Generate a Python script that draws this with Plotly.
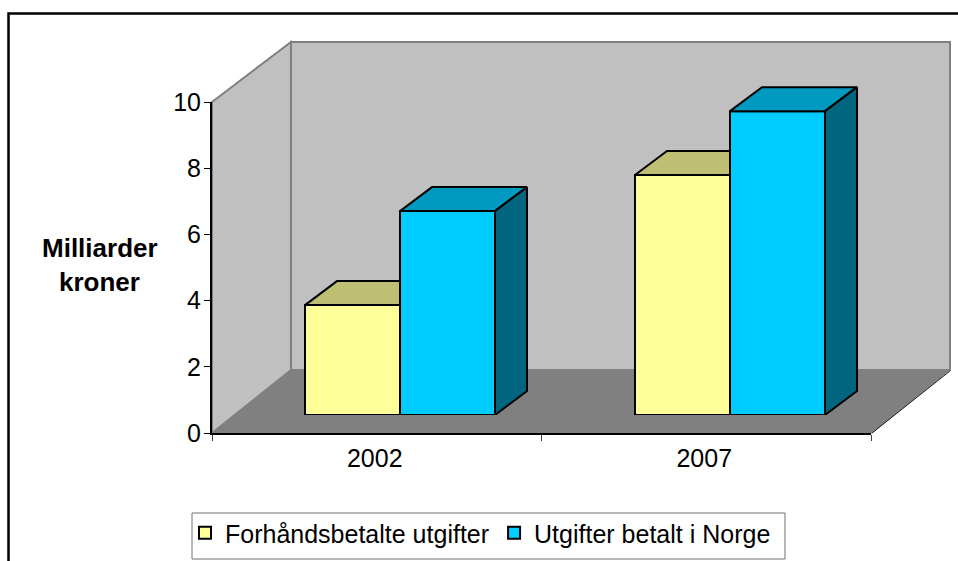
import plotly.graph_objects as go

# Data
CATEGORIES = ["2002", "2007"]
PREPAID = [3.32, 7.25]
PAID_NORWAY = [6.16, 9.18]
SERIES_NAMES = ["Forhåndsbetalte utgifter", "Utgifter betalt i Norge"]
Y_TICKS = [0, 2, 4, 6, 8, 10]

W, H = 958, 561
FX = lambda x: x / W
FY = lambda y: 1 - y / H

# Axis geometry (pixels)
X0, X1 = 212, 871
Y0, Y10 = 433, 102
BAR_X0, BAR_X1, BAR_BASE = 235, 895, 415
CAT_PX = (BAR_X1 - BAR_X0) / 2
VAL_PX = (Y0 - Y10) / 10
BAR_W = 95 / CAT_PX
DX, DY = 32 / CAT_PX, 24 / VAL_PX

YELLOW, YELLOW_TOP = "#FFFF99", "#BFBF73"
BLUE, BLUE_TOP, BLUE_SIDE = "#00CCFF", "#0099BF", "#006680"
FONT = "Liberation Sans, Arial, sans-serif"
TICK_SIZE = 25

fig = go.Figure()
# Category axis carrier
fig.add_trace(go.Scatter(x=CATEGORIES, y=[0, 0], mode="markers", marker=dict(opacity=0),
                         hoverinfo="skip", showlegend=False, xaxis="x", yaxis="y"))
# Front faces
fig.add_trace(go.Bar(x=[0, 1], y=PREPAID, name=SERIES_NAMES[0], width=BAR_W, offset=-BAR_W,
                     marker=dict(color=YELLOW, line=dict(color="black", width=2)),
                     xaxis="x2", yaxis="y2"))
fig.add_trace(go.Bar(x=[0, 1], y=PAID_NORWAY, name=SERIES_NAMES[1], width=BAR_W, offset=0,
                     marker=dict(color=BLUE, line=dict(color="black", width=2)),
                     xaxis="x2", yaxis="y2"))


def face(xs, ys, color):
    fig.add_trace(go.Scatter(x=xs, y=ys, mode="lines", fill="toself", fillcolor=color,
                             line=dict(color="black", width=2), hoverinfo="skip",
                             showlegend=False, xaxis="x2", yaxis="y2"))


for i in range(len(CATEGORIES)):
    v = PREPAID[i]
    l = i - BAR_W
    # visible part of the yellow top, up to the blue bar
    face([l, l + DX, i, i, l], [v, v + DY, v + DY, v, v], YELLOW_TOP)
    v = PAID_NORWAY[i]
    r = i + BAR_W
    face([i, i + DX, r + DX, r, i], [v, v + DY, v + DY, v, v], BLUE_TOP)
    face([r, r + DX, r + DX, r, r], [0, DY, v + DY, v, 0], BLUE_SIDE)


def poly(points, close=True):
    return "M " + " L ".join(f"{FX(x):.5f},{FY(y):.5f}" for x, y in points) + (" Z" if close else "")


WALL, EDGE = "#C0C0C0", "#808080"
shapes = [
    dict(type="path", path=poly([(X0, Y10), (291, 42), (291, 370), (X0, Y0)]),
         fillcolor=WALL, line=dict(color=EDGE, width=2)),
    dict(type="path", path=poly([(291, 42), (950, 42), (950, 370), (291, 370)]),
         fillcolor=WALL, line=dict(color=EDGE, width=2)),
    dict(type="path", path=poly([(X0, Y0), (291, 370), (950, 370), (872, Y0)]),
         fillcolor=EDGE, line=dict(color=EDGE, width=1)),
    dict(type="path", path=poly([(872, Y0), (950, 371)], close=False),
         line=dict(color="#202020", width=1)),
    dict(type="path", path=poly([(958, 13.5), (8.5, 13.5), (8.5, 561)], close=False),
         line=dict(color="black", width=2.5)),
    dict(type="rect", x0=FX(192), x1=FX(785), y0=FY(513), y1=FY(559),
         fillcolor="white", line=dict(color="#707070", width=1)),
]
for s in shapes:
    s.update(xref="paper", yref="paper", layer="below")

annotations = [
    dict(text="<b>Milliarder</b>", x=FX(99.5), y=FY(248), showarrow=False),
    dict(text="<b>kroner</b>", x=FX(99.5), y=FY(282), showarrow=False),
]
for a in annotations:
    a.update(xref="paper", yref="paper", xanchor="center", yanchor="middle",
             font=dict(family=FONT, size=26, color="black"))

fig.update_layout(
    width=W, height=H, margin=dict(l=0, r=0, t=0, b=0, autoexpand=False), autosize=False,
    paper_bgcolor="white", plot_bgcolor="rgba(0,0,0,0)",
    barmode="overlay", shapes=shapes, annotations=annotations,
    font=dict(family=FONT, size=TICK_SIZE, color="black"),
    xaxis=dict(type="category", domain=[FX(X0), FX(X1)], range=[-0.5, 1.5], anchor="y",
               tickson="boundaries", ticks="outside", ticklen=6, tickcolor="#404040", tickwidth=1,
               showline=True, linecolor="black", linewidth=2, showgrid=False, zeroline=False,
               tickfont=dict(size=TICK_SIZE), fixedrange=True, automargin=False,
               ticklabelstandoff=2, ticklabelshift=-2),
    yaxis=dict(domain=[FY(Y0), FY(Y10)], range=[0, 10], anchor="x", tickvals=Y_TICKS,
               ticks="outside", ticklen=6, tickcolor="black", tickwidth=1,
               showline=True, linecolor="black", linewidth=2, showgrid=False, zeroline=False,
               tickfont=dict(size=TICK_SIZE), fixedrange=True, automargin=False,
               ticklabelstandoff=-2),
    xaxis2=dict(domain=[FX(BAR_X0), FX(BAR_X1)], range=[-0.5, 1.5], anchor="y2",
                visible=False, fixedrange=True),
    yaxis2=dict(domain=[FY(BAR_BASE), FY(BAR_BASE - (Y0 - Y10))], range=[0, 10], anchor="x2",
                visible=False, fixedrange=True),
    legend=dict(orientation="h", x=FX(185), y=FY(533), xanchor="left", yanchor="middle",
                bgcolor="rgba(0,0,0,0)", borderwidth=0,
                font=dict(size=TICK_SIZE), traceorder="normal"),
)

fig.write_html("out.html", config=dict(displayModeBar=False),
               post_script="document.body.style.margin='0';document.body.style.overflow='hidden';")
